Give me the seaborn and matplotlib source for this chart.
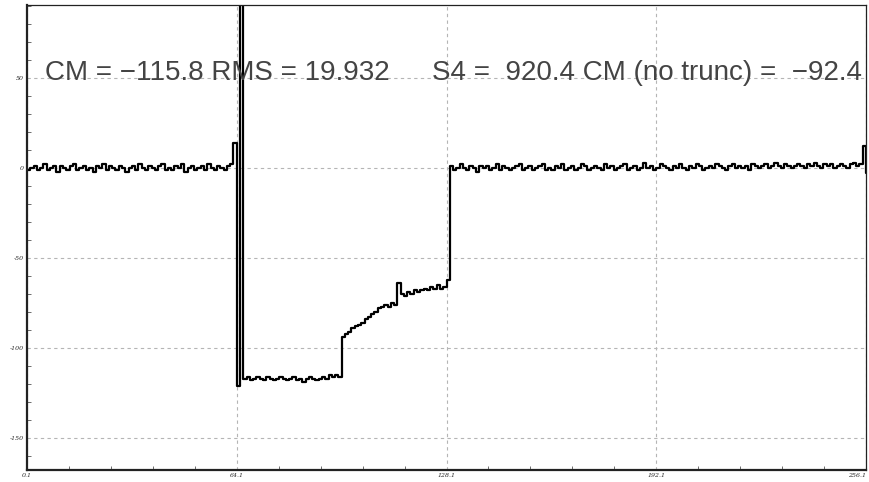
import numpy as np
import pandas as pd
import seaborn as sns
import matplotlib.pyplot as plt
from matplotlib.ticker import MultipleLocator

# data (one value per sample, step drawing)
left_base = [-1, 0, 1, -1, 0, 2, -1, 0, 1, -2,
             1, 0, -1, 1, 2, -1, 0, 1, -1, 0,
             -2, 1, 0, 2, -1, 1, 0, -1, 1, 0,
             -2, 0, 1, -1, 2, 0, -1, 1, 0, -1,
             1, 2, -1, 0, -1, 1, 0, 2, -2, 0,
             1, -1, 0, 1, -1, 2, 0, -1, 1, 0,
             -1, 1, 2]
spike_up = [14]
dip = [-121]
off_top = [200]
flat = [-117, -116, -118, -117, -116, -117, -118, -116, -117, -118,
        -117, -116, -117, -118, -117, -116, -118, -117, -119, -117,
        -116, -117, -118, -117, -116, -117, -115, -116, -115, -116]
rise = [-94, -92, -91, -89, -88, -87, -86, -84, -83, -81,
        -80, -78, -77, -76, -77, -75, -76, -64,
        -70, -71, -69, -70, -68, -69, -68, -67, -68, -66, -67, -65, -67, -66,
        -62]
right_base = [1, -1, 0, 2, 0, -1, 1, 0, -2, 1,
              0, 1, -1, 0, 2, -1, 1, 0, -1, 0,
              1, 2, -1, 0, 1, -1, 0, 1, 2, -1,
              0, -1, 1, 0, 2, -1, 0, 1, -1, 0,
              2, 1, -1, 0, 1, 0, -1, 2, 0, 1,
              -1, 0, 1, 2, -1, 0, 1, -1, 0, 3,
              0, 1, -1, 0, 2, 1, 0, -1, 1, 0,
              2, 0, -1, 1, 0, 2, 1, -1, 0, 1,
              0, 2, 1, 0, -1, 1, 2, 0, 1, 0,
              1, -1, 2, 1, 0, 1, 2, 0, 1, 3,
              1, 0, 2, 1, 0, 1, 2, 1, 0, 2,
              1, 3, 1, 0, 2, 1, 2, 0, 1, 2,
              1, 0, 2, 3, 1, 2]
end_spike = [12, -3]

xticks = [0, 64, 128, 192, 256]
xtick_labels = ["0.1", "64.1", "128.1", "192.1", "256.1"]
yticks = [50, 0, -50, -100, -150]
ytick_labels = ["50", "0", "-50", "-100", "-150"]

stats_left = "CM = \u2212115.8 RMS = 19.932"
stats_right = "S4 =  920.4 CM (no trunc) =  \u221292.4"

signal = left_base + spike_up + dip + off_top + flat + rise + right_base + end_spike
df = pd.DataFrame({"sample": np.arange(len(signal)), "value": signal})

sns.set_style("white")
plt.rcParams['font.family'] = ['Liberation Sans', 'DejaVu Sans']

fig = plt.figure(figsize=(8.69, 4.82), dpi=100)
ax = fig.add_axes([27 / 869, 12 / 482, 839 / 869, 465 / 482])

sns.lineplot(data=df, x="sample", y="value", ax=ax, color="black",
             linewidth=1.6, drawstyle="steps-post", estimator=None, sort=False)

ax.set_xlim(0, 256)
ax.set_ylim(-167.8, 90.6)
ax.set_xlabel("")
ax.set_ylabel("")

ax.set_xticks(xticks)
ax.set_xticklabels(xtick_labels, fontsize=4.5, style="italic", family="DejaVu Serif")
ax.get_xticklabels()[-1].set_ha("right")
ax.set_yticks(yticks)
ax.set_yticklabels(ytick_labels, fontsize=4.5, style="italic", family="DejaVu Serif")
ax.xaxis.set_minor_locator(MultipleLocator(12.8))
ax.yaxis.set_minor_locator(MultipleLocator(10))
ax.tick_params(which="both", direction="in", length=3, width=0.6, color="#555555",
               pad=2, left=True, bottom=True)
ax.tick_params(which="major", length=0)

ax.grid(True, which="major", color="#b5b5b5", linestyle=(0, (3, 3)), linewidth=0.8)

for side in ["left", "bottom"]:
    ax.spines[side].set_linewidth(1.6)
    ax.spines[side].set_color("#222222")
for side in ["top", "right"]:
    ax.spines[side].set_linewidth(0.9)
    ax.spines[side].set_color("#222222")

ax.text(18 / 839, (470 - 73) / 465, stats_left, transform=ax.transAxes,
        fontsize=20, color="#444444", va="center", ha="left")
ax.text(405 / 839, (470 - 73) / 465, stats_right, transform=ax.transAxes,
        fontsize=20, color="#444444", va="center", ha="left")

fig.savefig("out.png", dpi=100)
